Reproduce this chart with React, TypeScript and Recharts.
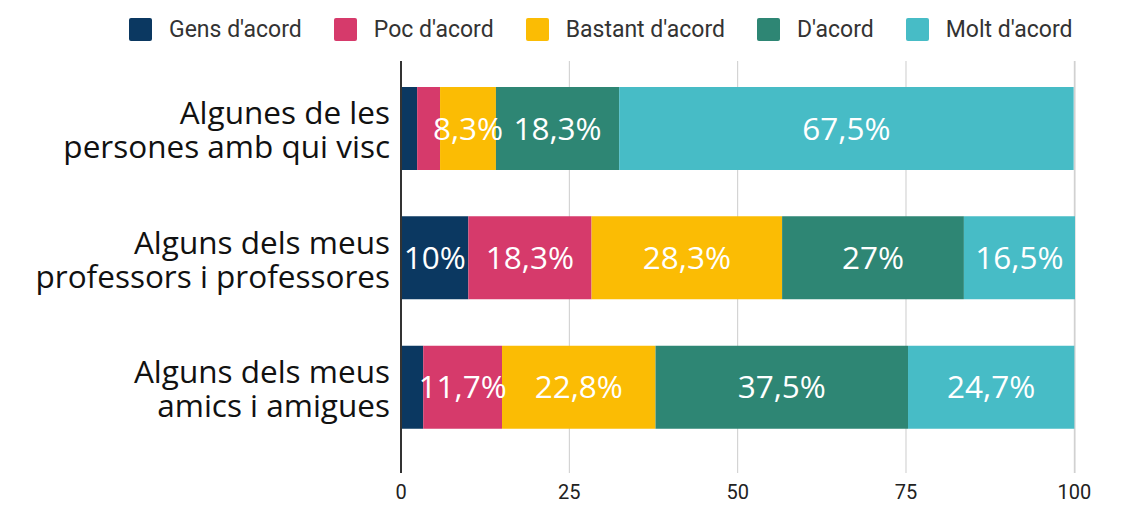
import { BarChart, Bar, XAxis, YAxis, CartesianGrid, LabelList } from 'recharts'

const categories = [
  'Algunes de les|persones amb qui visc',
  'Alguns dels meus|professors i professores',
  'Alguns dels meus|amics i amigues',
]
const gensAcord = [2.4, 10, 3.3]
const pocAcord = [3.4, 18.3, 11.7]
const bastantAcord = [8.3, 28.3, 22.8]
const dAcord = [18.3, 27, 37.5]
const moltAcord = [67.5, 16.5, 24.7]
const xTicks = [0, 25, 50, 75, 100]

const seriesDefs = [
  { key: 'gens', name: "Gens d'acord", color: '#0B3861', values: gensAcord },
  { key: 'poc', name: "Poc d'acord", color: '#D63A6B', values: pocAcord },
  { key: 'bastant', name: "Bastant d'acord", color: '#FBBC04', values: bastantAcord },
  { key: 'dacord', name: "D'acord", color: '#2E8674', values: dAcord },
  { key: 'molt', name: "Molt d'acord", color: '#47BCC6', values: moltAcord },
]

const data = categories.map((c, i) => {
  const row: any = { cat: c }
  seriesDefs.forEach(s => { row[s.key] = s.values[i] })
  return row
})

// only label segments wide enough to hold text
const fmt = (v: any) => (v >= 5 ? String(v).replace('.', ',') + '%' : '')

const CatTick = ({ x, y, payload }: any) => {
  const lines = String(payload.value).split('|')
  return (
    <text x={x} y={y - 4.5} textAnchor="end" fill="#111" fontSize={31.5} fontFamily="'Open Sans', sans-serif">
      <tspan x={x}>{lines[0]}</tspan>
      <tspan x={x} dy={34}>{lines[1]}</tspan>
    </text>
  )
}

const LegendBox = () => (
  <div style={{ position: 'absolute', left: 129, top: 16, display: 'flex', alignItems: 'center', fontFamily: 'Roboto, Arial, sans-serif', fontSize: 23, color: '#333' }}>
    {seriesDefs.map(s => (
      <div key={s.key} style={{ display: 'flex', alignItems: 'center', marginRight: 32 }}>
        <div style={{ width: 23, height: 23, borderRadius: 2, background: s.color, marginRight: 17 }} />
        <span>{s.name}</span>
      </div>
    ))}
  </div>
)

export default function App() {
  return (
    <div style={{ position: 'absolute', left: 0, top: 0, width: 1130, height: 507, background: '#fff' }}>
      <LegendBox />
      <BarChart
        width={1130}
        height={507}
        data={data}
        layout="vertical"
        margin={{ top: 61, right: 55, bottom: 0, left: 0 }}
        barSize={83}
      >
        <CartesianGrid horizontal={false} stroke="#cccccc" />
        <XAxis
          type="number"
          domain={[0, 100]}
          ticks={xTicks}
          height={34}
          tickLine={false}
          axisLine={false}
          tickSize={0}
          tickMargin={12}
          tick={{ fill: '#222', fontSize: 20, fontFamily: 'Roboto, Arial, sans-serif' }}
        />
        <YAxis
          type="category"
          dataKey="cat"
          width={401}
          tickLine={false}
          tickSize={0}
          tickMargin={11}
          axisLine={{ stroke: '#333', strokeWidth: 2 }}
          padding={{ top: 3, bottom: 21 }}
          tick={<CatTick />}
        />
        {seriesDefs.map(s => (
          <Bar key={s.key} dataKey={s.key} name={s.name} stackId="a" fill={s.color} isAnimationActive={false}>
            <LabelList
              dataKey={s.key}
              position="center"
              formatter={fmt}
              fill="#fff"
              fontSize={31.5}
              fontFamily="'Open Sans', sans-serif"
            />
          </Bar>
        ))}
      </BarChart>
    </div>
  )
}
